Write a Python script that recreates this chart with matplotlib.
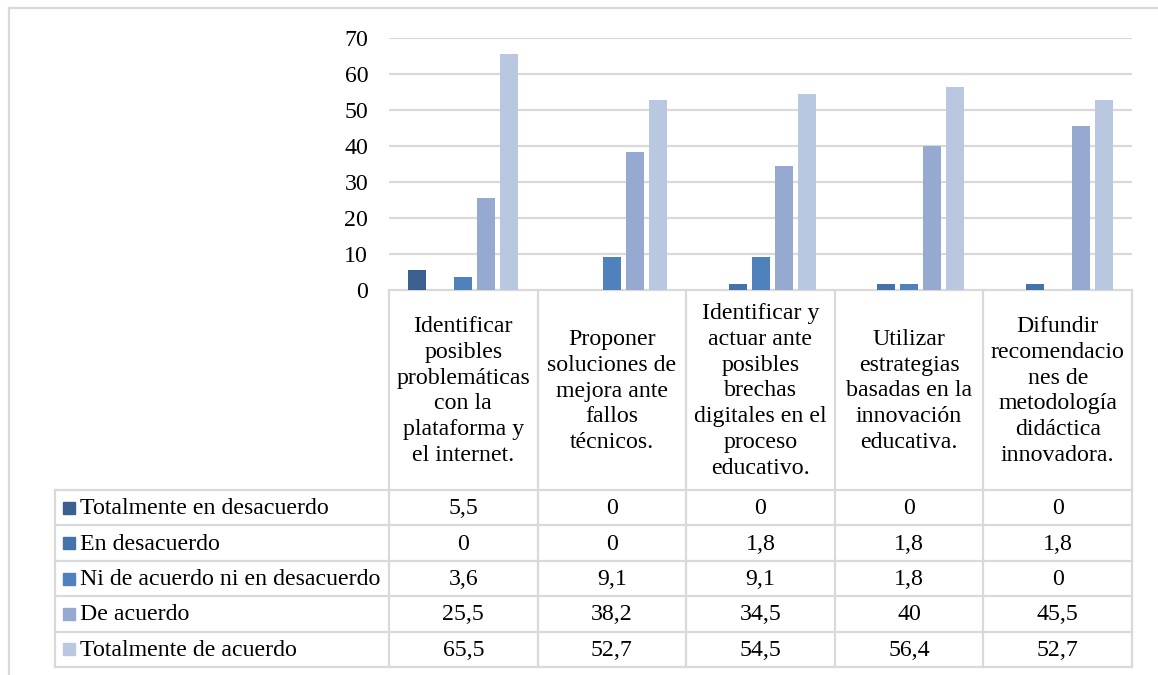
import matplotlib
matplotlib.use('Agg')
import matplotlib.pyplot as plt
import numpy as np

plt.rcParams['font.family'] = ['Liberation Serif', 'DejaVu Serif']

categorias = ["Identificar\nposibles\nproblemáticas\ncon la\nplataforma y\nel internet.",
              "Proponer\nsoluciones de\nmejora ante\nfallos\ntécnicos.",
              "Identificar y\nactuar ante\nposibles\nbrechas\ndigitales en el\nproceso\neducativo.",
              "Utilizar\nestrategias\nbasadas en la\ninnovación\neducativa.",
              "Difundir\nrecomendacio\nnes de\nmetodología\ndidáctica\ninnovadora."]
series = ["Totalmente en desacuerdo", "En desacuerdo", "Ni de acuerdo ni en desacuerdo",
          "De acuerdo", "Totalmente de acuerdo"]
tot_desacuerdo = [5.5, 0, 0, 0, 0]
desacuerdo = [0, 0, 1.8, 1.8, 1.8]
ni_ni = [3.6, 9.1, 9.1, 1.8, 0]
de_acuerdo = [25.5, 38.2, 34.5, 40, 45.5]
tot_acuerdo = [65.5, 52.7, 54.5, 56.4, 52.7]
valores = [tot_desacuerdo, desacuerdo, ni_ni, de_acuerdo, tot_acuerdo]
colores = ['#3B5F8F', '#4472AA', '#4F81BD', '#95A9D1', '#B9C7E1']

W, H = 1158, 675
fig = plt.figure(figsize=(W / 100, H / 100), dpi=100)

# pixel layout of the excel chart
px_left, px_right, px_top, px_zero = 389, 1132, 38, 290
tab_left, tab_head_bot, tab_bot = 55, 490, 667
grid_col = '#D9D9D9'
fs = 17.2

ax = fig.add_axes([px_left / W, 1 - px_zero / H, (px_right - px_left) / W, (px_zero - px_top) / H])
n = len(categorias)
x = np.arange(n) + 0.5
paso = 23 / ((px_right - px_left) / n)
ancho = 18 / ((px_right - px_left) / n)
for k, (vals, col) in enumerate(zip(valores, colores)):
    ax.bar(x + (k - 2) * paso, vals, ancho, color=col, zorder=3)
ax.set_xlim(0, n)
ax.set_ylim(0, 70)
ax.set_yticks(range(0, 71, 10))
ax.set_xticks([])
ax.grid(axis='y', color=grid_col, linewidth=1.6, zorder=0)
for s in ax.spines.values():
    s.set_visible(False)
ax.tick_params(axis='y', length=0, pad=15, labelsize=fs)

# overlay in pixel coordinates for the data table
tab = fig.add_axes([0, 0, 1, 1], zorder=-1)
tab.set_xlim(0, W)
tab.set_ylim(H, 0)
tab.axis('off')

lw = 1.6
# outer chart frame
tab.plot([9, 9], [8, H], color=grid_col, lw=lw)
tab.plot([9, W], [8, 8], color=grid_col, lw=lw)

cel = (px_right - px_left) / n
bordes = [px_left + i * cel for i in range(n + 1)]
fila = (tab_bot - tab_head_bot) / len(series)
filas_y = [tab_head_bot + i * fila for i in range(len(series) + 1)]

# header area
tab.plot([px_left, px_right], [px_zero, px_zero], color=grid_col, lw=lw)
for b in bordes:
    tab.plot([b, b], [px_zero, tab_bot], color=grid_col, lw=lw)
for i, c in enumerate(categorias):
    tab.text(bordes[i] + cel / 2, (px_zero + tab_head_bot) / 2 + 1, c, ha='center', va='center',
             fontsize=fs, linespacing=1.31)

# rows
for yy in filas_y:
    tab.plot([tab_left, px_right], [yy, yy], color=grid_col, lw=lw)
tab.plot([tab_left, tab_left], [tab_head_bot, tab_bot], color=grid_col, lw=lw)

for r, (nombre, vals, col) in enumerate(zip(series, valores, colores)):
    yc = filas_y[r] + fila / 2
    tab.add_patch(plt.Rectangle((63, yc - 6), 12, 12, color=col))
    tab.text(80, yc + 1, nombre, ha='left', va='center', fontsize=fs)
    for i, v in enumerate(vals):
        tab.text(bordes[i] + cel / 2, yc + 1, f"{v:g}".replace('.', ','), ha='center', va='center', fontsize=fs)

fig.savefig('out.png', dpi=100)
